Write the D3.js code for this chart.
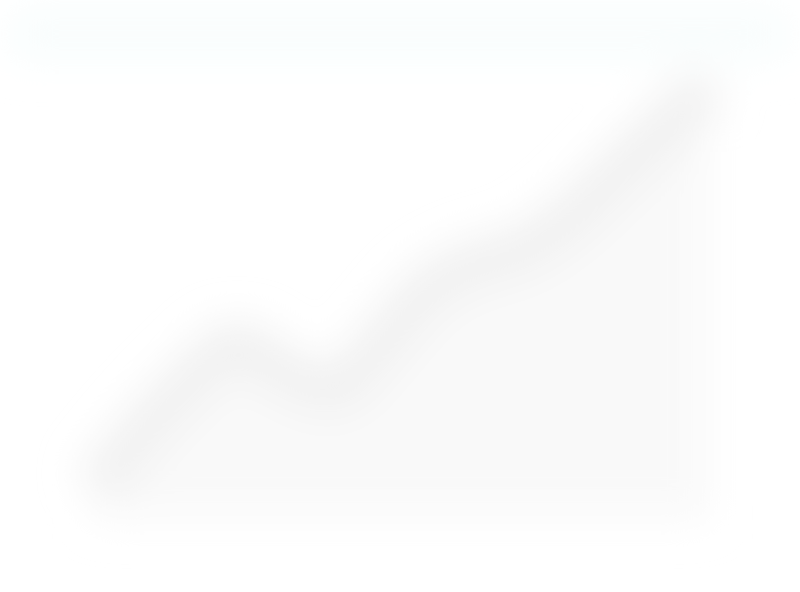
<!DOCTYPE html>
<html>
<head>
<meta charset="utf-8">
<script src="https://cdn.jsdelivr.net/npm/d3@7"></script>
<style>
  body { margin: 0; background: #fff; }
  svg { display: block; }
</style>
</head>
<body>
<svg id="chart"></svg>
<script>
var periods = [1, 2, 3, 4, 5, 6, 7, 8, 9, 10, 11, 12, 13, 14];
var values = [7, 20, 31, 39, 33, 29, 39, 51, 57, 60, 67, 77, 87, 97];

var width = 800;
var height = 592;
var margins = {top: 70, bottom: 72, left: 95, right: 90};

var svg = d3.select("#chart")
    .attr("width", width)
    .attr("height", height);

var defs = svg.append("defs");
defs.append("filter")
    .attr("id", "soft")
    .attr("x", "-20%").attr("y", "-20%")
    .attr("width", "140%").attr("height", "140%")
    .append("feGaussianBlur")
    .attr("stdDeviation", 20);

var xScale = d3.scaleLinear()
    .domain(d3.extent(periods))
    .range([margins.left, width - margins.right]);

var yScale = d3.scaleLinear()
    .domain([0, 100])
    .range([height - margins.bottom, margins.top]);

var data = periods.map(function(p, i) { return {p: p, v: values[i]}; });

var g = svg.append("g").attr("filter", "url(#soft)");

// pale header band
g.append("rect")
    .attr("x", 10).attr("y", 10)
    .attr("width", width - 20).attr("height", 48)
    .attr("fill", "#f8fdfd");

var area = d3.area()
    .x(function(d) { return xScale(d.p); })
    .y0(yScale(0))
    .y1(function(d) { return yScale(d.v); })
    .curve(d3.curveMonotoneX);

var line = d3.line()
    .x(function(d) { return xScale(d.p); })
    .y(function(d) { return yScale(d.v); })
    .curve(d3.curveMonotoneX);

g.append("path")
    .datum(data)
    .attr("d", area)
    .attr("fill", "#f9f9f9");

g.append("path")
    .datum(data)
    .attr("d", line)
    .attr("fill", "none")
    .attr("stroke", "#f0f0f0")
    .attr("stroke-width", 44);
</script>
</body>
</html>
